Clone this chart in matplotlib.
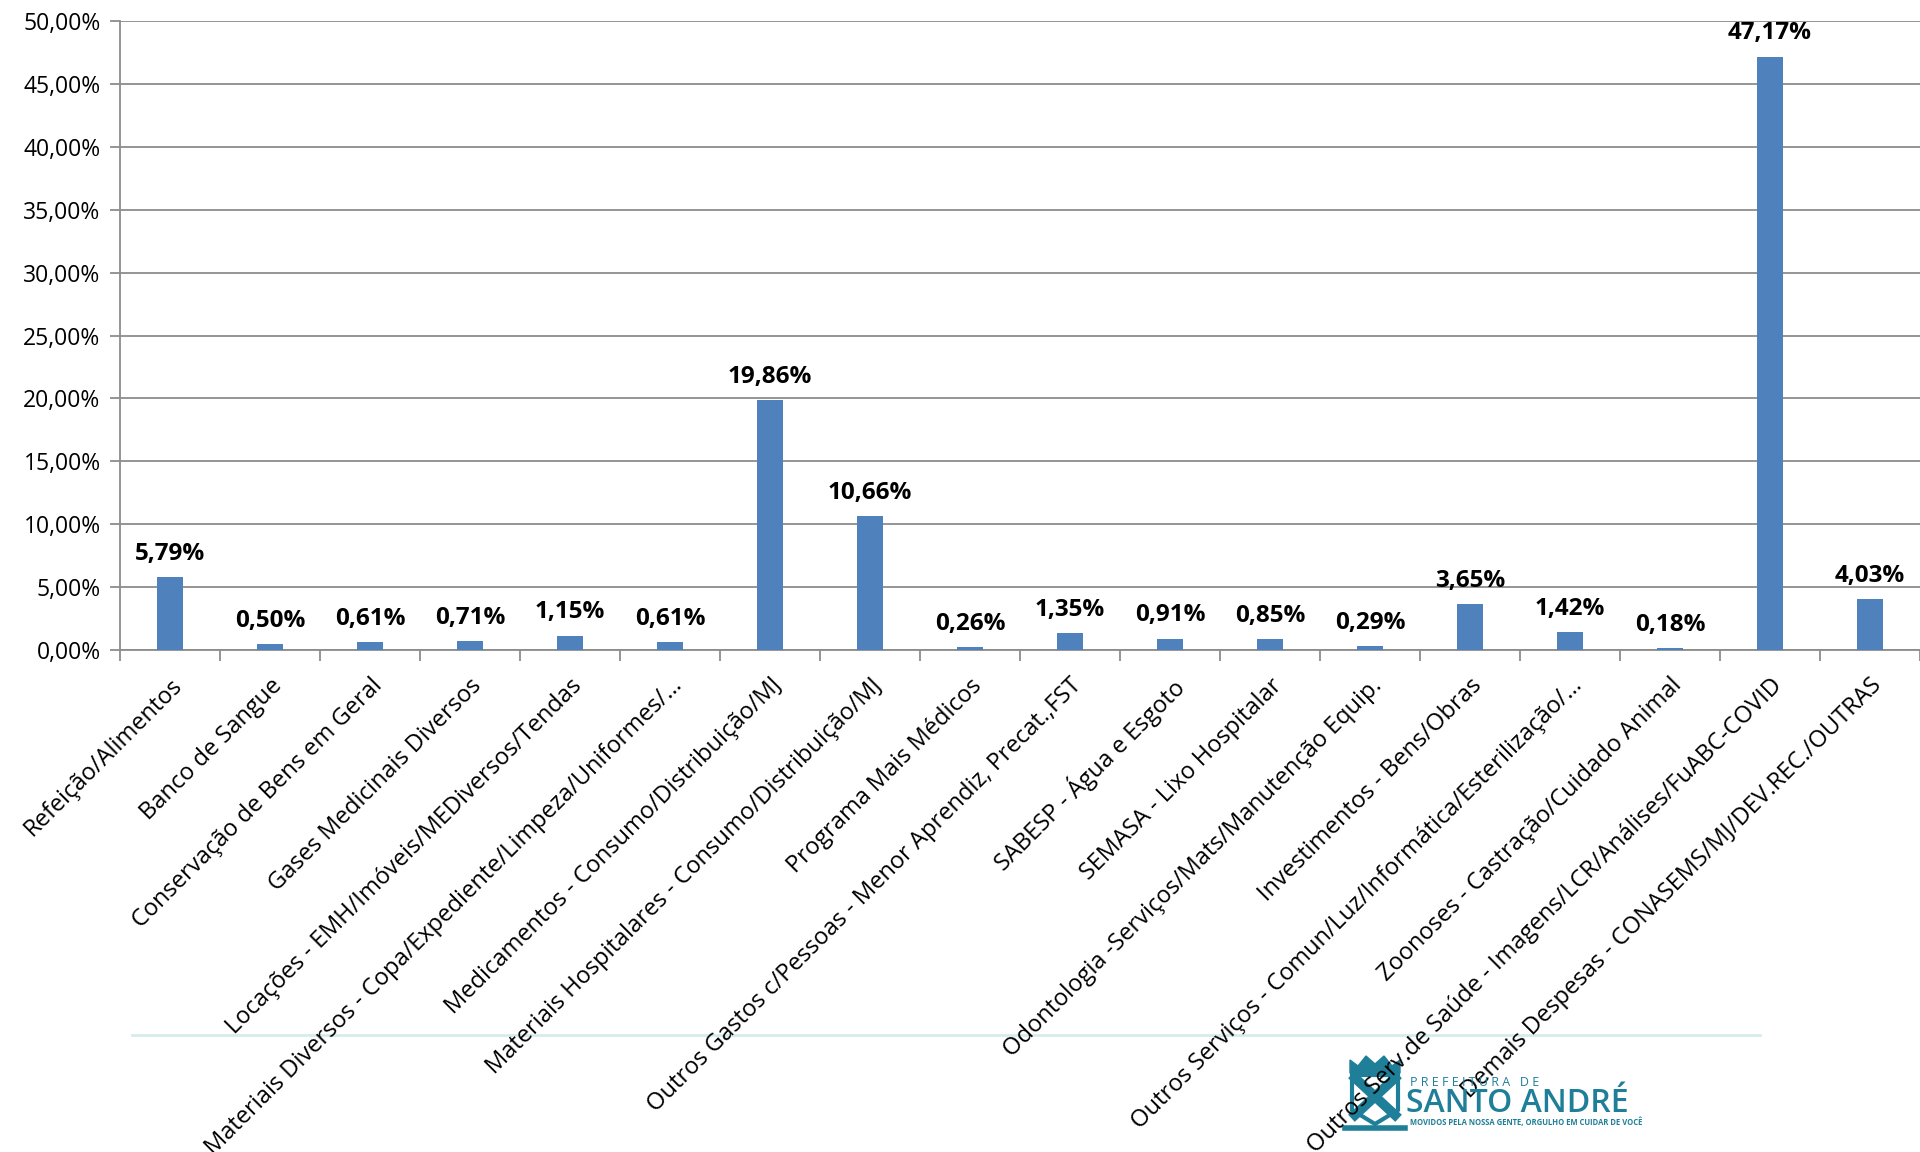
import numpy as np
import matplotlib.pyplot as plt
from matplotlib.ticker import FuncFormatter
from matplotlib.patches import Polygon

categorias = [
    'Refeição/Alimentos',
    'Banco de Sangue',
    'Conservação de Bens em Geral',
    'Gases Medicinais Diversos',
    'Locações - EMH/Imóveis/MEDiversos/Tendas',
    'Materiais Diversos - Copa/Expediente/Limpeza/Uniformes/…',
    'Medicamentos - Consumo/Distribuição/MJ',
    'Materiais Hospitalares - Consumo/Distribuição/MJ',
    'Programa Mais Médicos',
    'Outros Gastos c/Pessoas - Menor Aprendiz, Precat.,FST',
    'SABESP - Água e Esgoto',
    'SEMASA - Lixo Hospitalar',
    'Odontologia -Serviços/Mats/Manutenção Equip.',
    'Investimentos - Bens/Obras',
    'Outros Serviços - Comun/Luz/Informática/Esterilização/…',
    'Zoonoses - Castração/Cuidado Animal',
    'Outros Serv.de Saúde - Imagens/LCR/Análises/FuABC-COVID',
    'Demais Despesas - CONASEMS/MJ/DEV.REC./OUTRAS',
]
percentuais = [5.79, 0.50, 0.61, 0.71, 1.15, 0.61, 19.86, 10.66, 0.26,
               1.35, 0.91, 0.85, 0.29, 3.65, 1.42, 0.18, 47.17, 4.03]
y_ticks = [0, 5, 10, 15, 20, 25, 30, 35, 40, 45, 50]


def pct(v):
    return f'{v:.2f}'.replace('.', ',') + '%'


plt.rcParams['font.family'] = ['Open Sans', 'DejaVu Sans']

fig = plt.figure(figsize=(19.2, 11.52), dpi=100)
ax = fig.add_axes([120 / 1920, 1 - 650 / 1152, 1 - 120 / 1920, (650 - 21) / 1152])

x = np.arange(len(categorias))
bars = ax.bar(x, percentuais, width=0.26, color='#4F81BD', zorder=3)

for b, v in zip(bars, percentuais):
    ax.annotate(pct(v), (b.get_x() + b.get_width() / 2, v), xytext=(0, 8),
                textcoords='offset points', ha='center', va='bottom',
                fontsize=17.5, fontweight='bold', color='black')

ax.set_xlim(-0.5, len(categorias) - 0.5)
ax.set_ylim(0, 50)
ax.set_yticks(y_ticks)
ax.yaxis.set_major_formatter(FuncFormatter(lambda v, p: pct(v)))
ax.yaxis.grid(True, color='#8c8c8c', linewidth=1.3, zorder=0)

ax.set_xticks(x)
ax.set_xticklabels(categorias, rotation=45, ha='right', rotation_mode='anchor', fontsize=17)
ax.set_xticks(np.arange(-0.5, len(categorias)), minor=True)
ax.tick_params(axis='x', which='major', length=0, pad=17)
ax.tick_params(axis='x', which='minor', length=8, color='#8c8c8c', width=1.3)
ax.tick_params(axis='y', length=7, color='#8c8c8c', width=1.3, labelsize=16.5, pad=7)

for s in ['top', 'right']:
    ax.spines[s].set_visible(False)
for s in ['left', 'bottom']:
    ax.spines[s].set_color('#8c8c8c')
    ax.spines[s].set_linewidth(1.3)

# rodapé com logotipo
fig.add_artist(plt.Line2D([132 / 1920, 1760 / 1920], [1 - 1035 / 1152] * 2,
                          color='#d5ecec', linewidth=2, zorder=0))
teal = '#1f7f98'
fig.text(1410 / 1920, 1 - 1083 / 1152, 'P R E F E I T U R A   D E', color=teal,
         fontsize=9, va='center', ha='left', zorder=0)
fig.text(1406 / 1920, 1 - 1104 / 1152, 'SANTO ANDRÉ', color=teal,
         fontsize=23, fontweight='semibold', va='center', ha='left', zorder=0)
fig.text(1410 / 1920, 1 - 1122 / 1152, 'MOVIDOS PELA NOSSA GENTE, ORGULHO EM CUIDAR DE VOCÊ',
         color=teal, fontsize=5.5, fontweight='bold', va='center', ha='left', zorder=0)

# brasão simplificado
def fx(px):
    return px / 1920


def fy(py):
    return 1 - py / 1152


escudo = [(1352, 1075), (1398, 1075), (1398, 1110), (1375, 1124), (1352, 1110)]
fig.add_artist(Polygon([(fx(a), fy(b)) for a, b in escudo], closed=True,
                       facecolor='white', edgecolor=teal, linewidth=3, zorder=0))
fig.add_artist(plt.Line2D([fx(1355), fx(1395)], [fy(1078), fy(1115)], color=teal, linewidth=7, zorder=0))
fig.add_artist(plt.Line2D([fx(1395), fx(1355)], [fy(1078), fy(1115)], color=teal, linewidth=7, zorder=0))
coroa = [(1350, 1073), (1350, 1060), (1358, 1066), (1366, 1056), (1375, 1064),
         (1384, 1056), (1392, 1066), (1400, 1060), (1400, 1073)]
fig.add_artist(Polygon([(fx(a), fy(b)) for a, b in coroa], closed=True,
                       facecolor=teal, edgecolor=teal, linewidth=1, zorder=0))
fig.add_artist(plt.Line2D([fx(1345), fx(1405)], [fy(1128), fy(1128)], color=teal, linewidth=4, zorder=0))

fig.savefig('out.png', dpi=100)
